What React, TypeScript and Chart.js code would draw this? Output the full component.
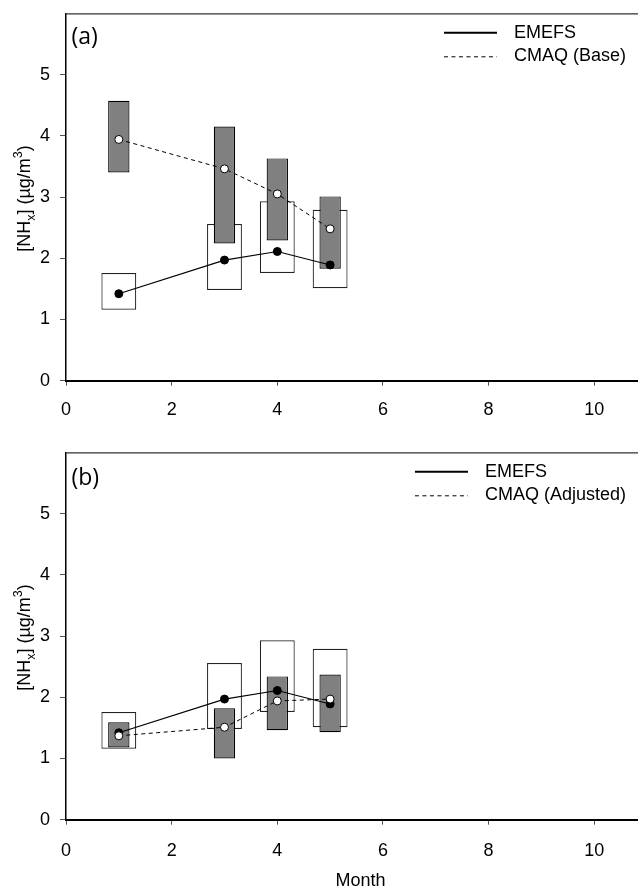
import React, { useEffect, useRef } from 'react';
import { Chart, registerables } from 'chart.js';

Chart.register(...registerables);

// ---- Data ----
const months = [1, 3, 4, 5];
const emefsMean = [1.42, 1.97, 2.11, 1.89];
const emefsLow = [1.16, 1.48, 1.76, 1.51];
const emefsHigh = [1.76, 2.56, 2.93, 2.79];

const baseMean = [3.94, 3.46, 3.05, 2.48];
const baseLow = [3.40, 2.24, 2.29, 1.83];
const baseHigh = [4.57, 4.15, 3.63, 3.01];

const adjMean = [1.37, 1.51, 1.94, 1.97];
const adjLow = [1.18, 1.00, 1.46, 1.43];
const adjHigh = [1.59, 1.82, 2.34, 2.37];

const xMin = 0;
const xMax = 11.15;
const xStep = 2;
const yMin = 0;
const yMax = 6;
const yLastTick = 5;

const legendTop = ['EMEFS', 'CMAQ (Base)'];
const legendBottom = ['EMEFS', 'CMAQ (Adjusted)'];

const FONT = "'Liberation Sans', Arial, Helvetica, sans-serif";

const extrasPlugin = {
  id: 'extras',
  afterDraw(chart: any, _args: any, opts: any) {
    const { ctx, chartArea: ca } = chart;
    ctx.save();
    // top & right frame
    ctx.strokeStyle = '#333';
    ctx.lineWidth = 1.2;
    ctx.beginPath();
    ctx.moveTo(ca.left, ca.top + 0.5);
    ctx.lineTo(ca.right, ca.top + 0.5);
    ctx.lineTo(ca.right, ca.bottom);
    ctx.stroke();

    // panel label
    ctx.fillStyle = '#000';
    ctx.font = "23px 'Open Sans', sans-serif";
    ctx.textAlign = 'left';
    ctx.textBaseline = 'alphabetic';
    ctx.fillText(opts.panel, ca.left + 5.5, ca.top + opts.panelDy);

    // legend
    ctx.font = `18px ${FONT}`;
    const labels: string[] = opts.labels;
    const w = Math.max(...labels.map((l) => ctx.measureText(l).width));
    const tx = ca.right - 29 - w;
    const rows = [ca.top + 19.5, ca.top + 43];
    ctx.textBaseline = 'middle';
    labels.forEach((l, i) => {
      ctx.fillText(l, tx, rows[i]);
    });
    ctx.strokeStyle = '#000';
    ctx.lineWidth = 2;
    ctx.setLineDash([]);
    ctx.beginPath();
    ctx.moveTo(tx - 70, rows[0]);
    ctx.lineTo(tx - 17, rows[0]);
    ctx.stroke();
    ctx.lineWidth = 1;
    ctx.setLineDash([4, 3.5]);
    ctx.beginPath();
    ctx.moveTo(tx - 70, rows[1] + 0.5);
    ctx.lineTo(tx - 17, rows[1] + 0.5);
    ctx.stroke();
    ctx.setLineDash([]);

    // y title with sub/superscript
    const cy = (ca.top + ca.bottom) / 2 + 1.5;
    ctx.translate(30, cy);
    ctx.rotate(-Math.PI / 2);
    const pieces = [
      { t: '[NH', s: 18, dy: 0 },
      { t: 'x', s: 12.5, dy: 4.5 },
      { t: '] (\u00b5g/m', s: 18, dy: 0 },
      { t: '3', s: 12.5, dy: -8 },
      { t: ')', s: 18, dy: 0 },
    ];
    let total = 0;
    const widths = pieces.map((p) => {
      ctx.font = `${p.s}px ${FONT}`;
      const m = ctx.measureText(p.t).width;
      total += m;
      return m;
    });
    let x = -total / 2;
    ctx.textBaseline = 'alphabetic';
    pieces.forEach((p, i) => {
      ctx.font = `${p.s}px ${FONT}`;
      ctx.fillText(p.t, x, p.dy);
      x += widths[i];
    });
    ctx.setTransform(1, 0, 0, 1, 0, 0);

    // x title
    if (opts.xTitle) {
      ctx.font = `18px ${FONT}`;
      ctx.textAlign = 'center';
      ctx.textBaseline = 'alphabetic';
      ctx.fillText(opts.xTitle, (ca.left + ca.right) / 2, ca.bottom + 66);
    }
    ctx.restore();
  },
};

function makeConfig(
  model: { mean: number[]; low: number[]; high: number[] },
  panel: string,
  labels: string[],
  topPad: number,
  xHeight: number,
  tickPad: number,
  panelDy: number,
  xTitle: string | null
): any {
  return {
    type: 'bar',
    data: {
      datasets: [
        {
          type: 'bar',
          label: 'EMEFS range',
          data: months.map((m, i) => ({ x: m, y: [emefsLow[i], emefsHigh[i]] })),
          backgroundColor: '#ffffff',
          borderColor: '#222',
          borderWidth: 1.2,
          borderSkipped: false,
          grouped: false,
          categoryPercentage: 1,
          barPercentage: 0.66,
          order: 4,
        },
        {
          type: 'bar',
          label: 'CMAQ range',
          data: months.map((m, i) => ({ x: m, y: [model.low[i], model.high[i]] })),
          backgroundColor: '#808080',
          borderColor: '#000',
          borderWidth: 1.2,
          borderSkipped: false,
          grouped: false,
          categoryPercentage: 1,
          barPercentage: 0.404,
          order: 3,
        },
        {
          type: 'line',
          label: labels[0],
          data: months.map((m, i) => ({ x: m, y: emefsMean[i] })),
          borderColor: '#000',
          borderWidth: 1.2,
          pointRadius: 4,
          pointBackgroundColor: '#000',
          pointBorderColor: '#000',
          pointBorderWidth: 1,
          fill: false,
          tension: 0,
          order: 2,
        },
        {
          type: 'line',
          label: labels[1],
          data: months.map((m, i) => ({ x: m, y: model.mean[i] })),
          borderColor: '#000',
          borderWidth: 1,
          borderDash: [4, 3.5],
          pointRadius: 4,
          pointBackgroundColor: '#fff',
          pointBorderColor: '#000',
          pointBorderWidth: 1,
          fill: false,
          tension: 0,
          order: 1,
        },
      ],
    },
    options: {
      responsive: false,
      animation: false,
      events: [],
      layout: { padding: { top: topPad, right: 4, left: 0, bottom: 0 } },
      plugins: {
        legend: { display: false },
        tooltip: { enabled: false },
        title: { display: false },
        extras: { panel, labels, panelDy, xTitle },
      },
      scales: {
        x: {
          type: 'linear',
          min: xMin,
          max: xMax,
          offset: false,
          afterFit: (s: any) => {
            s.height = xHeight;
            s.paddingLeft = 0;
            s.paddingRight = 0;
          },
          grid: {
            display: true,
            offset: false,
            drawOnChartArea: false,
            drawTicks: true,
            tickLength: 5,
            color: '#555',
            lineWidth: 1,
          },
          border: { display: true, color: '#000', width: 2 },
          ticks: {
            stepSize: xStep,
            includeBounds: false,
            padding: tickPad,
            color: '#000',
            font: { family: FONT, size: 18 },
            maxRotation: 0,
          },
        },
        y: {
          type: 'linear',
          min: yMin,
          max: yMax,
          afterFit: (s: any) => {
            s.width = 66;
            s.paddingTop = 0;
            s.paddingBottom = 0;
          },
          afterBuildTicks: (s: any) => {
            s.ticks = s.ticks.filter((t: any) => t.value <= yLastTick);
          },
          grid: {
            display: true,
            drawOnChartArea: false,
            drawTicks: true,
            tickLength: 6,
            color: '#555',
            lineWidth: 1,
          },
          border: { display: true, color: '#000', width: 1.5 },
          ticks: {
            stepSize: 1,
            includeBounds: false,
            padding: 10,
            color: '#000',
            font: { family: FONT, size: 18 },
          },
        },
      },
    },
    plugins: [extrasPlugin],
  };
}

export default function App() {
  const ref1 = useRef<HTMLCanvasElement>(null);
  const ref2 = useRef<HTMLCanvasElement>(null);

  useEffect(() => {
    const c1 = new Chart(
      ref1.current as HTMLCanvasElement,
      makeConfig({ mean: baseMean, low: baseLow, high: baseHigh }, '(a)', legendTop, 13.3, 49.3, 14, 30.6, null)
    );
    const c2 = new Chart(
      ref2.current as HTMLCanvasElement,
      makeConfig({ mean: adjMean, low: adjLow, high: adjHigh }, '(b)', legendBottom, 22.3, 67.3, 16, 32.5, 'Month')
    );
    return () => {
      c1.destroy();
      c2.destroy();
    };
  }, []);

  return (
    <div
      style={{
        position: 'fixed',
        left: 0,
        top: 0,
        width: 638,
        height: 887,
        overflow: 'hidden',
        background: '#fff',
      }}
    >
      <canvas
        ref={ref1}
        width={660}
        height={430}
        style={{ position: 'absolute', left: 0, top: 0, width: 660, height: 430 }}
      />
      <canvas
        ref={ref2}
        width={660}
        height={457}
        style={{ position: 'absolute', left: 0, top: 430, width: 660, height: 457 }}
      />
    </div>
  );
}
